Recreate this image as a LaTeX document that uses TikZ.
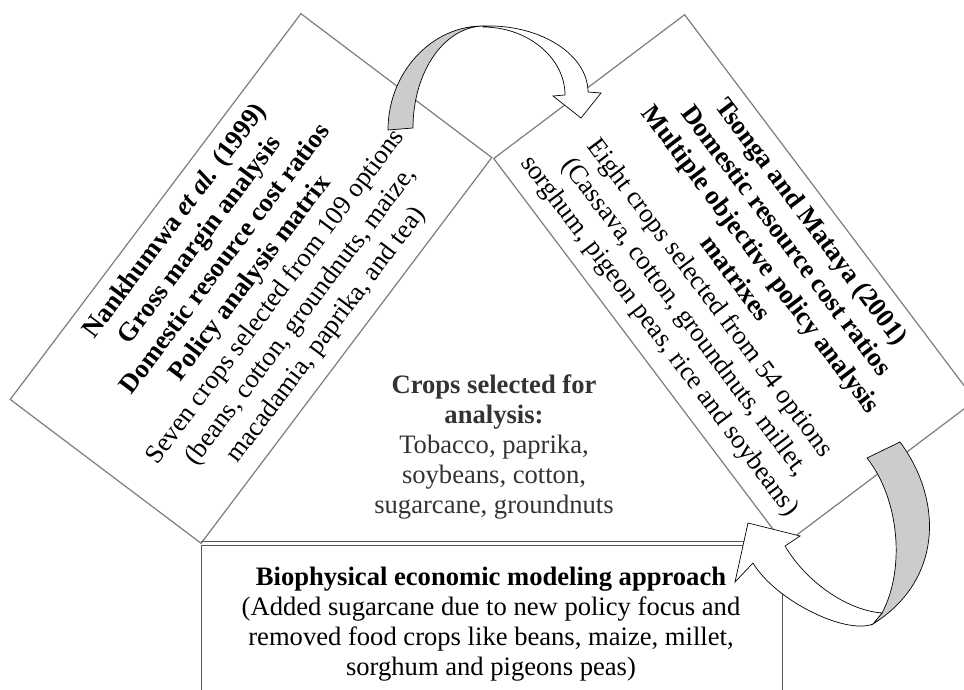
\documentclass[tikz,border=0pt]{standalone}
\usepackage{fontspec}
\setmainfont{Liberation Serif}
\usetikzlibrary{positioning}
\definecolor{boxgray}{RGB}{125,125,125}
\definecolor{ribbongray}{RGB}{204,204,204}
\tikzset{
	studybox/.style={draw=boxgray, line width=1.2pt, fill=white, minimum width=483pt, minimum height=239pt,
		inner sep=0pt, align=center, font=\fontsize{26.6}{31.5}\selectfont},
	plaintext/.style={inner sep=0pt, align=center, font=\fontsize{26.6}{30}\selectfont},
	backside/.style={draw=black, line width=0.7pt, fill=ribbongray},
	frontside/.style={draw=black, line width=0.7pt, fill=white},
}

\begin{document}
\begin{tikzpicture}[x=1pt, y=-1pt]
		\useasboundingbox (0,0) rectangle (964,690);
		\clip (0,0) rectangle (964,690);
		% the two studies
		\node[studybox, rotate=53] (nankhumwa) at (251,278.5) {\textbf{Nankhumwa \textit{et al.} (1999)}\\
			\textbf{Gross margin analysis}\\ \textbf{Domestic resource cost ratios}\\ \textbf{Policy analysis matrix}\\
			Seven crops selected from 109 options\\ (beans, cotton, groundnuts, maize,\\ macadamia, paprika, and tea)};
		\node[studybox, rotate=-53] (tsonga) at (734.5,279.5) {\textbf{Tsonga and Mataya (2001)}\\
			\textbf{Domestic resource cost ratios}\\ \textbf{Multiple objective policy analysis}\\ \textbf{matrixes}\\
			Eight crops selected from 54 options\\ (Cassava, cotton, groundnuts, millet,\\ sorghum, pigeon peas, rice and soybeans)};
		% bottom box
		\draw[boxgray!70!black, line width=1pt] (201,545) rectangle (782,700);
		\draw[boxgray!70!black, line width=1pt] (201,541.5) -- (782,541.5);
		\node[plaintext, anchor=north] (biophys) at (491,567) {\textbf{Biophysical economic modeling approach}\\
			(Added sugarcane due to new policy focus and\\ removed food crops like beans, maize, millet,\\ sorghum and pigeons peas)};
		\node[plaintext, anchor=north, text=black!80] (crops) at (494,374.5) {\textbf{Crops selected for}\\ \textbf{analysis:}\\
			Tobacco, paprika,\\ soybeans, cotton,\\ sugarcane, groundnuts};
		% curved arrows
		\draw[backside] (388,130) .. controls (388,73) and (431,26) .. (483,26)
			.. controls (444,27) and (413,72) .. (413,128) -- cycle;
		\draw[frontside] (483,26) .. controls (541,24) and (588,55) .. (588,92) -- (601,93) -- (581,118) -- (553,96) -- (565,95)
			.. controls (565,58) and (528,27) .. (483,27) -- cycle;
		\draw[backside] (867,458) -- (900,442) .. controls (943,500) and (943,580) .. (873,624) -- (882,613)
			.. controls (905,570) and (900,500) .. (867,458) -- cycle;
		\draw[frontside] (873,624) .. controls (845,635) and (775,600) .. (753,563) -- (735,582) -- (748,523) -- (800,536) -- (785,546)
			.. controls (805,580) and (845,610) .. (882,613) -- cycle;
\end{tikzpicture}
\end{document}
